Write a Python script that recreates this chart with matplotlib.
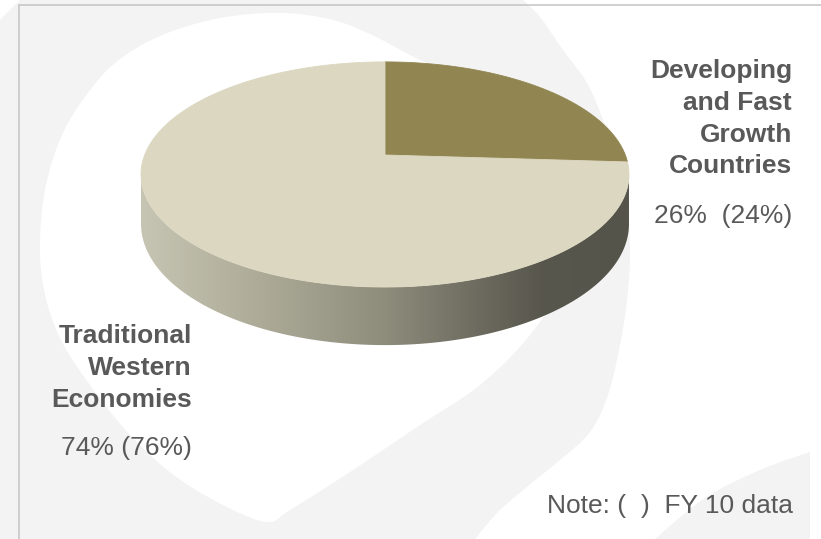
import numpy as np
import matplotlib
matplotlib.use("Agg")
import matplotlib.pyplot as plt
from matplotlib.patches import Polygon
from matplotlib.colors import LinearSegmentedColormap

# ---- data ----
categories = ["Developing and Fast Growth Countries", "Traditional Western Economies"]
share_fy11 = [26, 74]
share_fy10 = [24, 76]
label_lines = [["Developing", "and Fast", "Growth", "Countries"],
               ["Traditional", "Western", "Economies"]]
slice_colors = ["#918652", "#dcd7c0"]
note_text = "Note: (  )  FY 10 data"

W, H = 821, 539
fig = plt.figure(figsize=(W / 100, H / 100), dpi=100)
ax = fig.add_axes([0, 0, 1, 1])
ax.set_xlim(0, W)
ax.set_ylim(H, 0)
ax.axis("off")

plt.rcParams["font.family"] = ["Liberation Sans", "DejaVu Sans"]
TXT = "#595959"
FS = 19


def catmull(pts, closed=False, n=12):
    p = np.asarray(pts, float)
    if closed:
        p = np.vstack([p[-1], p, p[0], p[1]])
    else:
        p = np.vstack([p[0], p, p[-1]])
    out = []
    for i in range(1, len(p) - 2):
        p0, p1, p2, p3 = p[i - 1], p[i], p[i + 1], p[i + 2]
        for t in np.linspace(0, 1, n, endpoint=False):
            t2, t3 = t * t, t * t * t
            out.append(0.5 * ((2 * p1) + (-p0 + p2) * t +
                              (2 * p0 - 5 * p1 + 4 * p2 - p3) * t2 +
                              (-p0 + 3 * p1 - 3 * p2 + p3) * t3))
    if not closed:
        out.append(p[-2])
    return np.array(out)


# ---- background watermark ----
bg_gray = "#f3f3f3"
outer_curve = [(523, 0), (540, 17), (563, 50), (587, 83), (603, 120),
               (617, 165), (627, 210), (630, 255), (627, 300), (620, 345),
               (608, 395), (590, 432), (560, 460), (528, 486), (498, 512),
               (475, 539)]
outer = np.vstack([[(0, 20), (20, 0)], catmull(outer_curve), [(0, 539)]])
leaf_pts = [(282, 13), (333, 20), (372, 35), (410, 55), (460, 80), (510, 115),
            (548, 165), (566, 225), (560, 285), (530, 335), (480, 385),
            (420, 425), (350, 472), (290, 510), (267, 522), (225, 506),
            (175, 476), (130, 435), (90, 385), (60, 338), (44, 290), (40, 240),
            (46, 185), (62, 135), (85, 97), (115, 63), (160, 36), (220, 18)]
leaf = catmull(leaf_pts, closed=True)
corner_curve = [(810, 452), (760, 470), (705, 498), (655, 539)]
corner = np.vstack([catmull(corner_curve), [(810, 539)]])
ax.add_patch(Polygon(outer, closed=True, fc=bg_gray, ec="none", zorder=0))
ax.add_patch(Polygon(leaf, closed=True, fc="white", ec="none", zorder=0.5))
ax.add_patch(Polygon(corner, closed=True, fc=bg_gray, ec="none", zorder=0))

# border lines
ax.plot([18, W], [5, 5], color="#c4c4c4", lw=1.1, zorder=1, solid_capstyle="butt")
ax.plot([19, 19], [5, H], color="#c4c4c4", lw=1.1, zorder=1, solid_capstyle="butt")

# ---- 3D pie (perspective projection of a disk) ----
cx, R, Y0, K, c, D = 385.0, 240.3, 155.0, 109.2, 0.173, 48.0


def proj(theta_deg, depth=0.0, r=1.0):
    t = np.radians(theta_deg)
    u = r * np.cos(t)
    v = -r * np.sin(t)
    w = 1 - c * v
    return cx + R * u / w, Y0 + K * v / w + depth / w


# side band (front visible part)
a0 = 180 + np.degrees(np.arcsin(c))
a1 = 360 - np.degrees(np.arcsin(c))
th = np.linspace(a0, a1, 200)
tx, ty = proj(th)
bx, by = proj(th, depth=D)
side_pts = np.column_stack([np.r_[tx, bx[::-1]], np.r_[ty, by[::-1]]])
side_patch = Polygon(side_pts, closed=True, fc="none", ec="none", zorder=2)
ax.add_patch(side_patch)
grad = LinearSegmentedColormap.from_list(
    "side",
    [(0.0, "#c6c4b2"), (0.22, "#b0ae9b"), (0.5, "#8e8c7b"), (0.7, "#6c6a5e"),
     (0.82, "#58574e"), (1.0, "#55544b")])
xs = np.linspace(0, 1, 256)[None, :]
im = ax.imshow(np.repeat(xs, 2, axis=0), cmap=grad, aspect="auto",
               extent=[tx.min(), tx.max(), by.max() + 2, ty.min() - 2],
               zorder=2, interpolation="bilinear")
im.set_clip_path(side_patch)

# top face wedges, clockwise from 12 o'clock
total = float(sum(share_fy11))
start = 90.0
for val, col in zip(share_fy11, slice_colors):
    sweep = 360.0 * val / total
    angs = np.linspace(start, start - sweep, max(int(sweep * 2), 10))
    px, py = proj(angs)
    ox, oy = proj(0, r=0)
    pts = np.column_stack([np.r_[ox, px], np.r_[oy, py]])
    ax.add_patch(Polygon(pts, closed=True, fc=col, ec=col, lw=0.6, zorder=3))
    start -= sweep

# ---- labels ----
def block(lines, x_right, baselines, pct_text, pct_base):
    for s, yb in zip(lines, baselines):
        ax.text(x_right, yb, s, ha="right", va="baseline", fontsize=FS,
                fontweight="bold", color=TXT, zorder=5)
    ax.text(x_right, pct_base, pct_text, ha="right", va="baseline", fontsize=FS,
            color=TXT, zorder=5)


block(label_lines[0], 792, [78.3, 110, 141.7, 173.3],
      f"{share_fy11[0]}%  ({share_fy10[0]}%)", 223.3)
block(label_lines[1], 192, [342.7, 374.7, 406.7],
      f"{share_fy11[1]}% ({share_fy10[1]}%)", 455)

ax.text(793, 513.3, note_text, ha="right", va="baseline", fontsize=FS,
        color=TXT, zorder=5)

fig.savefig("out.png", dpi=100)
